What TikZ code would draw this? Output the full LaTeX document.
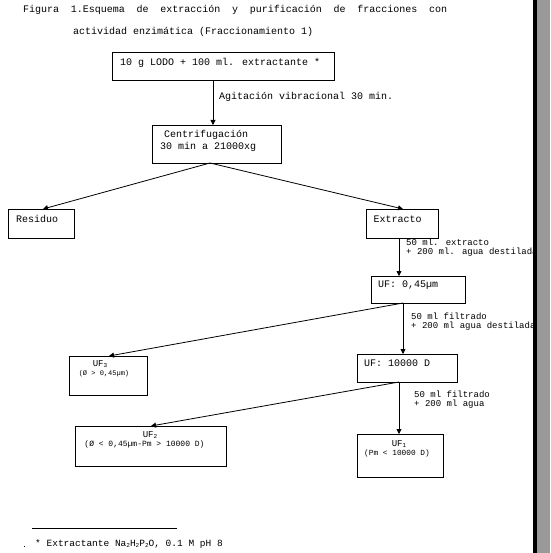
\documentclass[tikz,border=0pt]{standalone}
\usepackage{fontspec}
\setmainfont{Liberation Mono}
\usetikzlibrary{arrows.meta}
\definecolor{bargray}{RGB}{153,153,153}
\newcommand{\lowtxt}[1]{\raisebox{-1.5pt}{\fontsize{6}{6}\selectfont #1}}
\begin{document}
\begin{tikzpicture}[x=1pt,y=-1pt,
  box/.style={draw,line width=0.8pt,inner sep=0pt,outer sep=0pt,anchor=north west},
  txt/.style={inner sep=0pt,anchor=west,font=\fontsize{10}{12}\selectfont},
  lbl/.style={inner sep=0pt,anchor=west,font=\fontsize{9}{11}\selectfont},
  uft/.style={inner sep=0pt,font=\fontsize{9}{10}\selectfont},
  tinyt/.style={inner sep=0pt,font=\fontsize{7}{8}\selectfont},
  conn/.style={line width=0.8pt,-{Triangle[length=5pt,width=5pt]}}]
\useasboundingbox (0,0) rectangle (550,553);
\fill[white] (0,0) rectangle (550,553);

% title
\node[txt] (t1) at (23,10) {\makebox[424pt][l]{Figura\hfill 1.Esquema\hfill de\hfill extracción\hfill y\hfill purificación\hfill de\hfill fracciones\hfill con}};
\node[txt] (t2) at (73,32) {actividad enzimática (Fraccionamiento 1)};

% boxes
\node[box,minimum width=222pt,minimum height=28pt] (b0) at (112,52) {};
\node[box,minimum width=129pt,minimum height=38pt] (b1) at (152,125) {};
\node[box,minimum width=66pt,minimum height=29pt] (res) at (8,209) {};
\node[box,minimum width=72pt,minimum height=29pt] (ext) at (366,209) {};
\node[box,minimum width=94pt,minimum height=27pt] (uf45) at (371,276) {};
\node[box,minimum width=78pt,minimum height=39pt] (uf3) at (69,356) {};
\node[box,minimum width=100pt,minimum height=28pt] (uf10k) at (357,354) {};
\node[box,minimum width=151pt,minimum height=40pt] (uf2) at (75,426) {};
\node[box,minimum width=86pt,minimum height=43pt] (uf1) at (357,434) {};

% box texts
\node[txt] (b0t) at (120,63) {10 g LODO + 100 ml. extractante *};
\node[txt] (b1t) at (164,135) {Centrifugación};
\node[txt] (b1u) at (160,147) {30 min a 21000xg};
\node[txt] (rest) at (16,219) {Residuo};
\node[txt] (extt) at (373.5,219) {Extracto};
\node[txt] (uf45t) at (378,285) {UF: 0,45µm};
\node[txt] (uf10kt) at (364,363) {UF: 10000 D};
\node[uft] (uf3a) at (100,364) {UF\lowtxt{3}};
\node[tinyt] (uf3b) at (104,374) {(Ø > 0,45µm)};
\node[uft] (uf2a) at (150,435) {UF\lowtxt{2}};
\node[tinyt,font=\fontsize{8}{9}\selectfont] (uf2b) at (144.5,444.5) {(Ø < 0,45µm-Pm > 10000 D)};
\node[uft] (uf1a) at (399,444) {UF\lowtxt{1}};
\node[tinyt,font=\fontsize{7.8}{9}\selectfont] (uf1b) at (397,453.5) {(Pm < 10000 D)};

% connector labels
\node[txt] (l0) at (219,97) {Agitación vibracional 30 min.};
\node[lbl] (l1a) at (406,242) {50 ml. extracto};
\node[lbl] (l1b) at (406,252) {+ 200 ml. agua destilada};
\node[lbl] (l2a) at (411,316) {50 ml filtrado};
\node[lbl] (l2b) at (411,326) {+ 200 ml agua destilada};
\node[lbl] (l3a) at (414,394) {50 ml filtrado};
\node[lbl] (l3b) at (414,404) {+ 200 ml agua};

% connectors
\draw[conn] ([xshift=101pt]b0.south west) -- ([xshift=61pt]b1.north west);
\draw[conn] ([xshift=58pt]b1.south west) -- ([xshift=35pt]res.north west);
\draw[conn] ([xshift=58pt]b1.south west) -- ([xshift=37pt]ext.north west);
\draw[conn] ([xshift=33pt]ext.south west) -- ([xshift=28pt]uf45.north west);
\draw[conn] ([xshift=32pt]uf45.south west) -- ([xshift=40pt]uf3.north west);
\draw[conn] ([xshift=32pt]uf45.south west) -- ([xshift=46pt]uf10k.north west);
\draw[conn] ([xshift=42pt]uf10k.south west) -- ([xshift=76pt]uf2.north west);
\draw[conn] ([xshift=42pt]uf10k.south west) -- ([xshift=42pt]uf1.north west);

% footnote
\coordinate (fl) at (32,528);
\coordinate (fr) at (177,528);
\draw[line width=0.8pt] (fl) -- (fr);
\fill (23.5,545.5) rectangle (24.5,546.5);
\node[txt,font=\fontsize{9.5}{11}\selectfont] (fn) at (35,544) {* Extractante Na\lowtxt{2}H\lowtxt{2}P\lowtxt{2}O, 0.1 M pH 8};

% right bar
\fill[black] (533,0) rectangle (537,553);
\fill[bargray] (537,0) rectangle (550,553);
\end{tikzpicture}
\end{document}
